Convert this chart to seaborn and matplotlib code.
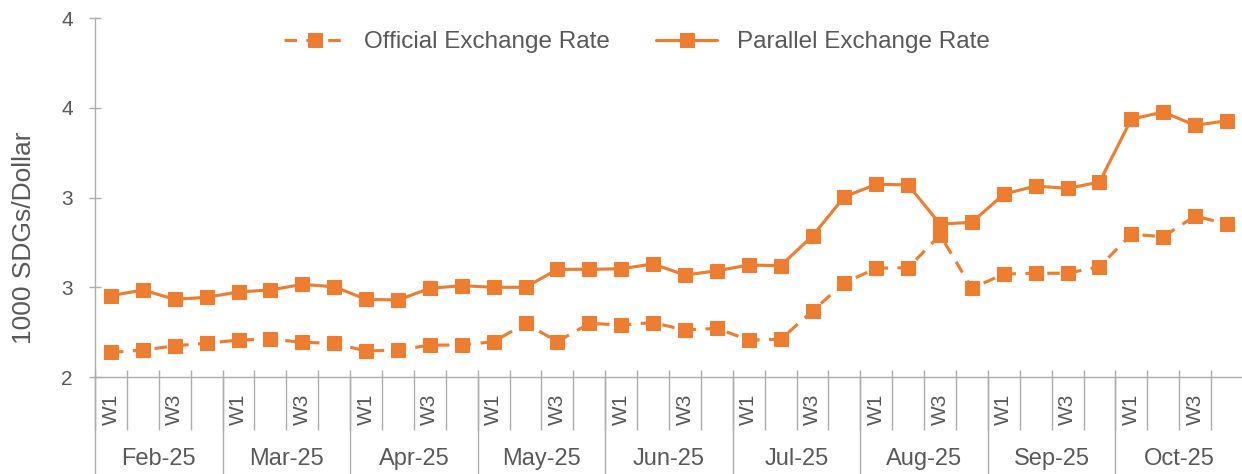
import numpy as np
import pandas as pd
import matplotlib
matplotlib.use('Agg')
import matplotlib.pyplot as plt
import seaborn as sns


months = ['Feb-25', 'Mar-25', 'Apr-25', 'May-25', 'Jun-25', 'Jul-25', 'Aug-25', 'Sep-25', 'Oct-25']
week_labels = ['W1', '', 'W3', '']

# weekly rates, thousand SDG per dollar
official = [2.137, 2.150, 2.174, 2.188, 2.206, 2.212, 2.193, 2.188, 2.145, 2.150,
            2.178, 2.178, 2.197, 2.299, 2.197, 2.299, 2.290, 2.303, 2.262, 2.271,
            2.206, 2.210, 2.368, 2.525, 2.606, 2.609, 2.791, 2.494, 2.574, 2.578,
            2.578, 2.615, 2.795, 2.782, 2.897, 2.852]
parallel = [2.453, 2.485, 2.433, 2.444, 2.474, 2.485, 2.516, 2.503, 2.433, 2.429,
            2.494, 2.509, 2.500, 2.500, 2.600, 2.600, 2.603, 2.630, 2.568, 2.592,
            2.624, 2.620, 2.786, 3.004, 3.074, 3.070, 2.852, 2.862, 3.019, 3.064,
            3.051, 3.086, 3.437, 3.476, 3.402, 3.428]

y_ticks = [2.0, 2.5, 3.0, 3.5, 4.0]
y_tick_labels = ['2', '3', '3', '4', '4']

sns.set_theme(style='white')
plt.rcParams['font.family'] = ['Liberation Sans', 'DejaVu Sans']

orange = '#ED7D31'
txt = '#595959'
axis_grey = '#ADADAD'

n_weeks = len(week_labels)
n = len(months) * n_weeks
idx = np.arange(n)
df = pd.DataFrame({'week': idx, 'official': official, 'parallel': parallel})

fig = plt.figure(figsize=(12.42, 4.74), dpi=100)
ax = fig.add_axes([0.0765, 0.2046, 0.9243, 0.7574])

sns.lineplot(data=df, x='week', y='official', ax=ax, color=orange, linewidth=2.25,
             linestyle=(0, (4, 3)), marker='s', markersize=10, markeredgecolor=orange,
             markeredgewidth=0.8, label='Official Exchange Rate')
sns.lineplot(data=df, x='week', y='parallel', ax=ax, color=orange, linewidth=2.25,
             linestyle='-', marker='s', markersize=10, markeredgecolor=orange,
             markeredgewidth=0.8, label='Parallel Exchange Rate')

ax.set_xlim(-0.5, n - 0.5)
ax.set_ylim(2, 4)
ax.set_xlabel('')
ax.set_ylabel('1000 SDGs/Dollar', fontsize=19, color=txt)
ax.yaxis.set_label_coords(-0.051, 0.389)

ax.set_yticks(y_ticks, labels=y_tick_labels)
ax.tick_params(axis='y', direction='inout', length=9, width=1, color=axis_grey,
               labelcolor=txt, labelsize=15, pad=11.5, left=True)

bounds = np.arange(n + 1) - 0.5
ax.set_xticks(bounds, labels=[''] * len(bounds))
ax.tick_params(axis='x', direction='in', length=5, width=1, color=axis_grey, bottom=True)

for side in ['top', 'right']:
    ax.spines[side].set_visible(False)
for side in ['left', 'bottom']:
    ax.spines[side].set_color(axis_grey)
    ax.spines[side].set_linewidth(1)

# week level of the category axis
wk = ax.secondary_xaxis('bottom')
wk.set_xticks(bounds, labels=[''] * len(bounds))
wk.set_xticks(idx, labels=week_labels * len(months), minor=True)
wk.tick_params(which='major', direction='out', length=38, width=1, color=axis_grey)
wk.tick_params(which='minor', length=0, pad=12, labelrotation=90, labelsize=15, labelcolor=txt)
for s in wk.spines.values():
    s.set_visible(False)

# month level
month_bounds = np.arange(len(months) + 1) * n_weeks - 0.5
month_centers = np.arange(len(months)) * n_weeks + (n_weeks - 1) / 2
mo = ax.secondary_xaxis('bottom')
mo.set_xticks(month_bounds, labels=[''] * len(month_bounds))
mo.set_xticks(month_centers, labels=months, minor=True)
mo.tick_params(which='major', direction='out', length=70, width=1, color=axis_grey)
mo.tick_params(which='minor', length=0, pad=51, labelsize=17, labelcolor=txt)
for s in mo.spines.values():
    s.set_visible(False)

ax.legend(loc='center', bbox_to_anchor=(0.472, 0.933), ncol=2, frameon=False,
          fontsize=17.5, labelcolor=txt, handlelength=2.5, handletextpad=0.8,
          columnspacing=1.9)

fig.savefig('out.png', dpi=100)
